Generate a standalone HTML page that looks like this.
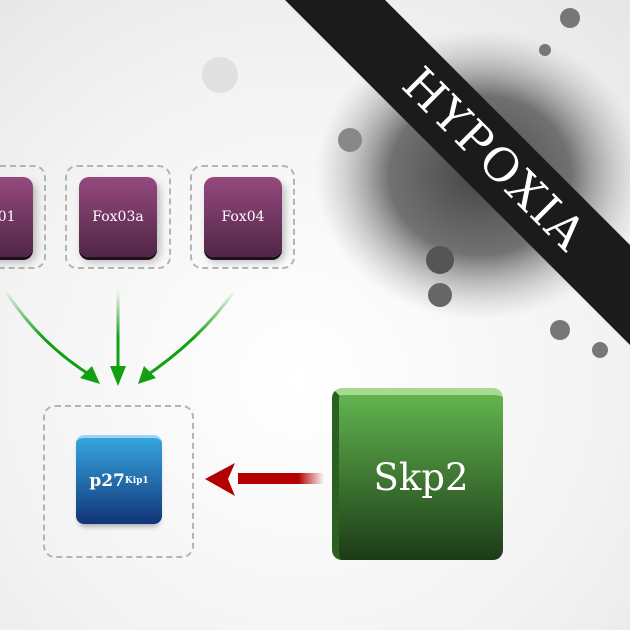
<!DOCTYPE html>
<html><head><style>
body{margin:0;width:630px;height:630px;overflow:hidden;background:radial-gradient(circle at 300px 380px,#fff 0,#f3f3f3 60%,#e6e6e6 100%);position:relative;font-family:"DejaVu Serif","Liberation Serif",serif}
.dash{position:absolute;border:2px dashed #b4b4b4;border-radius:12px;box-sizing:border-box}
.fox{position:absolute;width:78px;height:80px;border-radius:10px;background:linear-gradient(#96497f,#4f2646);box-shadow:0 3px 0 #1e0f1b,3px 5px 8px rgba(0,0,0,.25);color:#fff;font-size:14px;display:flex;align-items:center;justify-content:center}
</style></head><body>
<svg width="630" height="630" style="position:absolute;left:0;top:0">
<defs><radialGradient id="ink"><stop offset="0" stop-color="#444"/><stop offset=".55" stop-color="#5a5a5a" stop-opacity=".85"/><stop offset="1" stop-color="#aaa" stop-opacity="0"/></radialGradient>
<linearGradient id="ra" x1="1" x2="0"><stop offset="0" stop-color="#b40000" stop-opacity="0"/><stop offset=".3" stop-color="#b40000"/></linearGradient>
<linearGradient id="ga" gradientUnits="userSpaceOnUse" x1="0" y1="290" x2="0" y2="370"><stop offset="0" stop-color="#1aa01a" stop-opacity="0"/><stop offset=".6" stop-color="#12a012"/></linearGradient></defs>
<ellipse cx="480" cy="175" rx="165" ry="145" fill="url(#ink)"/>
<circle cx="440" cy="295" r="12" fill="#666"/><circle cx="570" cy="18" r="10" fill="#777"/><circle cx="600" cy="350" r="8" fill="#777"/><circle cx="560" cy="330" r="10" fill="#777"/><circle cx="440" cy="260" r="14" fill="#555"/><circle cx="350" cy="140" r="12" fill="#888"/><circle cx="610" cy="290" r="10" fill="#666"/><circle cx="545" cy="50" r="6" fill="#777"/>
<circle cx="220" cy="75" r="18" fill="#e0e0e0"/>
<polygon points="285,0 385,0 630,245 630,345" fill="#1b1b1b"/>
<text x="0" y="0" transform="translate(492,162) rotate(45)" text-anchor="middle" dominant-baseline="middle" fill="#fff" font-family="DejaVu Serif,serif" font-size="46" letter-spacing="2">HYPOXIA</text>
<path d="M5,290 Q40,345 95,378" stroke="url(#ga)" stroke-width="3" fill="none"/>
<path d="M118,290 L118,376" stroke="url(#ga)" stroke-width="3" fill="none"/>
<path d="M235,290 Q200,340 143,378" stroke="url(#ga)" stroke-width="3" fill="none"/>
<polygon points="100,384 80,378 92,366" fill="#12a012"/>
<polygon points="118,386 110,366 126,366" fill="#12a012"/>
<polygon points="138,384 144,366 156,378" fill="#12a012"/>
<rect x="238" y="473" width="86" height="11" fill="url(#ra)"/>
<polygon points="205,479 235,463 228,479 235,496" fill="#b40000"/>
</svg>
<div class="dash" style="left:-12px;top:165px;width:58px;height:104px"></div>
<div class="dash" style="left:65px;top:165px;width:106px;height:104px"></div>
<div class="dash" style="left:190px;top:165px;width:105px;height:104px"></div>
<div class="fox" style="left:-45px;top:177px">Fox01</div>
<div class="fox" style="left:79px;top:177px">Fox03a</div>
<div class="fox" style="left:204px;top:177px">Fox04</div>
<div class="dash" style="left:43px;top:405px;width:151px;height:153px"></div>
<div style="position:absolute;left:76px;top:435px;width:86px;height:89px;border-radius:8px;background:linear-gradient(#36a6de,#123479);border-top:3px solid #9bd5f5;box-sizing:border-box;box-shadow:0 5px 6px -3px rgba(0,0,0,.35);color:#fff;font-size:17px;font-weight:bold;display:flex;align-items:center;justify-content:center">p27<sup style="font-size:9px">Kip1</sup></div>
<div style="position:absolute;left:332px;top:388px;width:171px;height:172px;border-radius:10px;background:linear-gradient(#62b44e,#1c3a17);border-top:7px solid #a6da92;border-left:7px solid #2c6020;box-sizing:border-box;color:#fff;font-size:37px;display:flex;align-items:center;justify-content:center">Skp2</div>
</body></html>
